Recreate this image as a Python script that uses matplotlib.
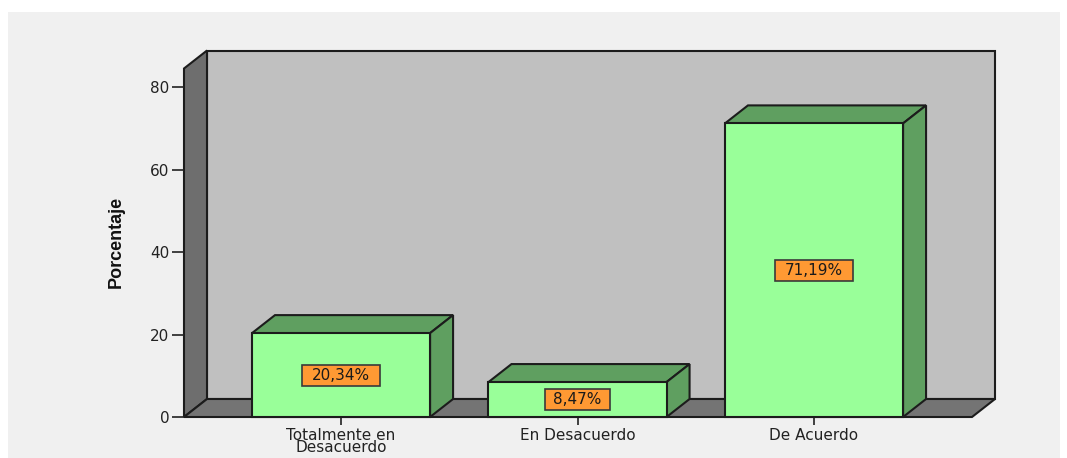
import matplotlib
matplotlib.use('Agg')
import matplotlib.pyplot as plt
from matplotlib.patches import Polygon, Rectangle

plt.rcParams['font.family'] = ['DejaVu Sans']

categories = ['Totalmente en\nDesacuerdo', 'En Desacuerdo', 'De Acuerdo']
values = [20.34, 8.47, 71.19]
value_labels = ['20,34%', '8,47%', '71,19%']
yticks = [0, 20, 40, 60, 80]

W, H = 1067, 458
fig = plt.figure(figsize=(W / 100, H / 100), dpi=100, facecolor='white')
fig.add_artist(Rectangle((8 / W, 0), 1052 / W, 446 / H, transform=fig.transFigure,
                         facecolor='#f0f0f0', edgecolor='none', zorder=-1))

# front plane of the 3d box
ax = fig.add_axes([184 / W, 1 - 417 / H, 788 / W, 348.5 / H])
ax.set_xlim(-0.664, 2.668)
ax.set_ylim(0, 84.5)
ax.patch.set_visible(False)
for s in ax.spines.values():
    s.set_visible(False)

dx = 23 / 236.5
dy = 18 / 4.125
bar_w = 0.753
x0, x1 = ax.get_xlim()
top = ax.get_ylim()[1]
line = '#1c1c1c'


def poly(pts, color, z=1):
    ax.add_patch(Polygon(pts, closed=True, facecolor=color, edgecolor=line,
                         linewidth=1.5, joinstyle='miter', clip_on=False, zorder=z))


# back wall, left wall, floor
poly([(x0 + dx, dy), (x1 + dx, dy), (x1 + dx, top + dy), (x0 + dx, top + dy)], '#c0c0c0')
poly([(x0, 0), (x0 + dx, dy), (x0 + dx, top + dy), (x0, top)], '#6e6e6e')
poly([(x0, 0), (x1, 0), (x1 + dx, dy), (x0 + dx, dy)], '#747474')

for i, v in enumerate(values):
    l, r = i - bar_w / 2, i + bar_w / 2
    poly([(l, v), (r, v), (r + dx, v + dy), (l + dx, v + dy)], '#5f9f60', 3)
    poly([(r, 0), (r + dx, dy), (r + dx, v + dy), (r, v)], '#5f9f60', 3)
    poly([(l, 0), (r, 0), (r, v), (l, v)], '#99ff99', 4)
    # orange label box, sized by the label length
    bw = len(value_labels[i]) * 13 / 236.5
    bh = 21 / 4.125
    ax.add_patch(Rectangle((i - bw / 2, v / 2 - bh / 2), bw, bh, facecolor='#ff9933',
                           edgecolor='#3a3a3a', linewidth=1.2, zorder=5))
    ax.text(i, v / 2, value_labels[i], ha='center', va='center', fontsize=11,
            color='#1a1a1a', zorder=6)

ax.set_xticks(range(len(categories)))
ax.set_xticklabels(categories, fontsize=11, color='#222222', linespacing=0.78)
ax.set_yticks(yticks)
ax.tick_params(axis='y', length=8.5, width=1.2, color='#222222', labelsize=11, labelcolor='#222222', pad=2)
ax.tick_params(axis='x', length=6, width=1.2, color='#222222', pad=2)

fig.text(116 / W, 1 - 242 / H, 'Porcentaje', rotation=90, ha='center', va='center',
         fontsize=13, fontweight='bold', color='#111111',
         family=['Liberation Sans Narrow', 'Liberation Sans'])

fig.savefig('out.png', dpi=100, facecolor='white')
